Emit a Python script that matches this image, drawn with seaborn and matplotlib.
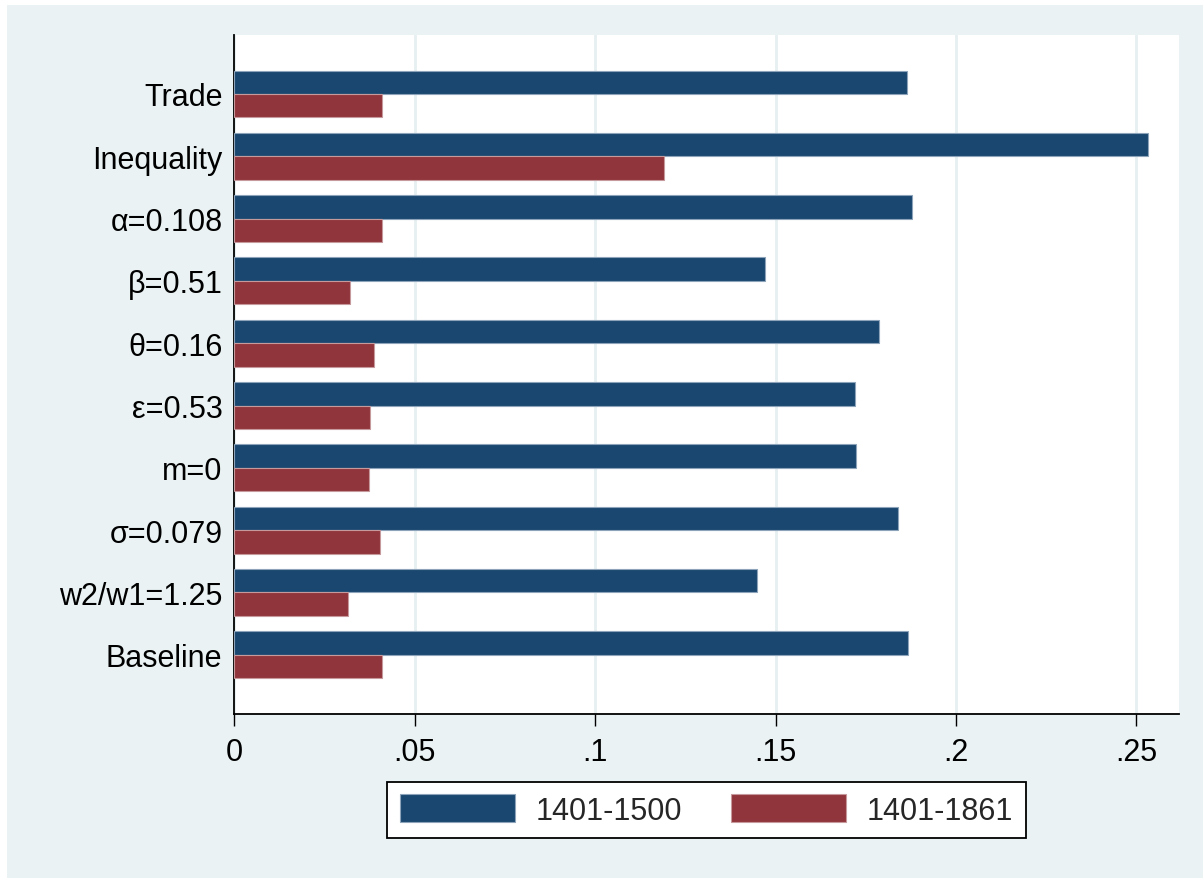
import matplotlib
matplotlib.use("Agg")
import matplotlib.pyplot as plt
import matplotlib.patches as mpatches
from matplotlib.ticker import FixedLocator, FixedFormatter
import seaborn as sns
import pandas as pd

# ---- data ----
categories = ["Trade", "Inequality", "α=0.108", "β=0.51", "θ=0.16",
              "ε=0.53", "m=0", "σ=0.079", "w2/w1=1.25", "Baseline"]
series_names = ["1401-1500", "1401-1861"]
values_1401_1500 = [0.1865, 0.2532, 0.1879, 0.1470, 0.1786,
                    0.1721, 0.1723, 0.1839, 0.1450, 0.1866]
values_1401_1861 = [0.0408, 0.1191, 0.0410, 0.0321, 0.0388,
                    0.0377, 0.0374, 0.0403, 0.0316, 0.0408]
x_ticks = [0, 0.05, 0.10, 0.15, 0.20, 0.25]
x_tick_labels = ["0", ".05", ".1", ".15", ".2", ".25"]

colors = ["#1A476F", "#90353B"]
edge_colors = ["#8CA3BA", "#C6999C"]
bg = "#EAF2F3"

df = pd.DataFrame({
    "scenario": categories * 2,
    "value": values_1401_1500 + values_1401_1861,
    "period": [series_names[0]] * len(categories) + [series_names[1]] * len(categories),
})

sns.set_theme(style="white")
plt.rcParams["font.family"] = ["Liberation Sans", "DejaVu Sans"]

FS = 22

W, H = 1203, 879
fig = plt.figure(figsize=(W / 100, H / 100), dpi=100)
fig.patch.set_facecolor("white")
# light outer background (Stata style)
fig.patches.append(mpatches.Rectangle((7 / W, 0), 1 - 7 / W, 1 - 6 / H,
                                      transform=fig.transFigure,
                                      facecolor=bg, edgecolor="none", zorder=-10))

left, right, top, bottom = 234.3, 1179.3, 36.0, 714.7
ax = fig.add_axes([left / W, 1 - bottom / H, (right - left) / W, (bottom - top) / H])
ax.set_facecolor("white")

sns.barplot(data=df, x="value", y="scenario", hue="period", order=categories,
            hue_order=series_names, palette=colors, orient="h", width=0.75,
            saturation=1, errorbar=None, legend=False, ax=ax, zorder=3)

# bar edges lighter tint
for i, cont in enumerate(ax.containers):
    for p in cont:
        p.set_edgecolor(edge_colors[i])
        p.set_linewidth(0.8)

ax.set_xlim(0, (right - left) / 3608.0)
ax.set_ylim(len(categories) - 1 + 0.945, -0.945)

ax.xaxis.set_major_locator(FixedLocator(x_ticks))
ax.xaxis.set_major_formatter(FixedFormatter(x_tick_labels))
ax.grid(axis="x", color="#E6EFF1", linewidth=2.0, zorder=0)
ax.grid(axis="y", visible=False)
ax.set_axisbelow(True)

for s in ["top", "right"]:
    ax.spines[s].set_visible(False)
for s in ["left", "bottom"]:
    ax.spines[s].set_visible(True)
    ax.spines[s].set_color("black")
    ax.spines[s].set_linewidth(1.3)

ax.tick_params(axis="x", which="major", length=8.6, width=1.0, color="black",
               direction="out", pad=8, labelsize=FS, labelcolor="black", bottom=True)
ax.tick_params(axis="y", which="major", length=0, pad=8.5, labelsize=FS,
               labelcolor="black", left=True)
ax.set_xlabel("")
ax.set_ylabel("")

handles = [mpatches.Patch(facecolor=colors[i], edgecolor=edge_colors[i], linewidth=0.8,
                          label=series_names[i]) for i in range(2)]
leg = fig.legend(handles=handles, loc="center",
                 bbox_to_anchor=(706.6 / W, 1 - 811 / H), bbox_transform=fig.transFigure,
                 ncol=2, fontsize=FS, frameon=True, fancybox=False,
                 handlelength=3.75, handleheight=1.0, handletextpad=0.68,
                 columnspacing=1.62, borderpad=0.42, borderaxespad=0)
leg.get_frame().set_edgecolor("black")
leg.get_frame().set_linewidth(1.3)
leg.get_frame().set_facecolor("white")
leg.get_frame().set_alpha(1)

fig.savefig("out.png", dpi=100, facecolor=fig.get_facecolor())
